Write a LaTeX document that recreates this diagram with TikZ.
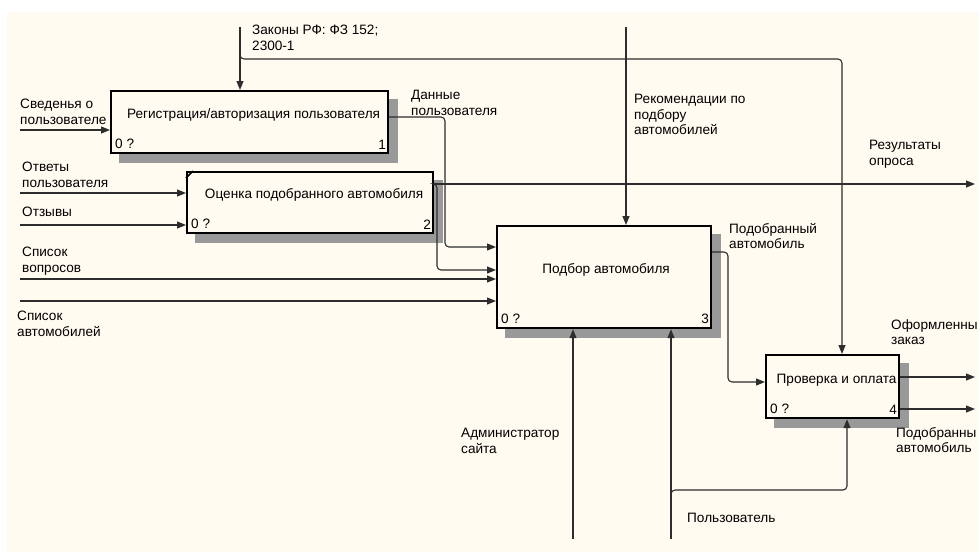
\documentclass[tikz,border=0pt]{standalone}
\usepackage{fontspec}
\setmainfont{Liberation Sans}
\usetikzlibrary{arrows.meta,backgrounds}
\definecolor{paper}{RGB}{255,251,240}
\definecolor{wirecol}{RGB}{45,45,45}

\begin{document}
\begin{tikzpicture}[
    x=1pt, y=-1pt,
    font=\fontsize{13.6}{15.5}\selectfont,
    box/.style={draw, line width=2.2pt, fill=paper, anchor=north west, inner sep=0pt},
    boxtitle/.style={inner sep=0pt},
    boxtag/.style={inner sep=0pt},
    lbl/.style={anchor=north west, align=left, inner sep=0pt},
    link/.style={-{Triangle[length=9pt,width=7pt]}, line width=1.1pt, draw=wirecol, rounded corners=4pt},
    shadowfill/.style={fill=black!40}
]
\useasboundingbox (0,0) rectangle (978,552);

% activity boxes
\node[box, minimum width=277pt, minimum height=62pt] (reg) at (110,90) {};
\node[box, minimum width=246pt, minimum height=61pt] (eval) at (186,171) {};
\node[box, minimum width=214pt, minimum height=102pt] (pick) at (496,225) {};
\node[box, minimum width=133pt, minimum height=63pt] (pay) at (765,354) {};
\draw[line width=1.5pt] ([yshift=-7pt]eval.north west) -- ([xshift=7pt]eval.north west);

\node[boxtitle] (regt) at ([shift={(4pt,7.5pt)}]reg.center) {Регистрация/авторизация пользователя};
\node[boxtitle] (evalt) at ([shift={(4pt,7.5pt)}]eval.center) {Оценка подобранного автомобиля};
\node[boxtitle] (pickt) at ([shift={(2pt,7.5pt)}]pick.center) {Подбор автомобиля};
\node[boxtitle] (payt) at ([shift={(4pt,6.5pt)}]pay.center) {Проверка и оплата};

\node[boxtag, anchor=south west] (reg0) at ([shift={(5pt,5pt)}]reg.south west) {0 ?};
\node[boxtag, anchor=south east] (reg1) at ([shift={(-3pt,5pt)}]reg.south east) {1};
\node[boxtag, anchor=south west] (eval0) at ([shift={(5pt,5pt)}]eval.south west) {0 ?};
\node[boxtag, anchor=south east] (eval1) at ([shift={(-3pt,5pt)}]eval.south east) {2};
\node[boxtag, anchor=south west] (pick0) at ([shift={(5pt,5pt)}]pick.south west) {0 ?};
\node[boxtag, anchor=south east] (pick1) at ([shift={(-3pt,5pt)}]pick.south east) {3};
\node[boxtag, anchor=south west] (pay0) at ([shift={(5pt,5pt)}]pay.south west) {0 ?};
\node[boxtag, anchor=south east] (pay1) at ([shift={(-3pt,5pt)}]pay.south east) {4};

% controls
\coordinate (lawsrc) at (240,27);
\coordinate (lawsplit) at (240,50);
\coordinate (lawturn) at (842,59);
\coordinate (recsrc) at (626,27);
\draw[link] (lawsrc) -- (lawsrc |- reg.north);
\draw[link] (lawsplit) |- (lawturn) -- (lawturn |- pay.north);
\draw[link] (recsrc) -- (recsrc |- pick.north);

% inputs
\coordinate (in1) at (20,130);
\coordinate (in2) at (20,193);
\coordinate (in3) at (20,225);
\coordinate (in4) at (20,279);
\coordinate (in5) at (20,301);
\draw[link] (in1) -- (in1 -| reg.west);
\draw[link] (in2) -- (in2 -| eval.west);
\draw[link] (in3) -- (in3 -| eval.west);
\draw[link] (in4) -- (in4 -| pick.west);
\draw[link] (in5) -- (in5 -| pick.west);

% outputs
\coordinate (d1) at (445,117);
\coordinate (d1end) at (445,247);
\draw[link] (d1 -| reg.east) -- (d1) -- (d1end) -- (d1end -| pick.west);
\coordinate (r2) at (975,184);
\coordinate (e2) at (437,270);
\draw[link] (r2 -| eval.east) -- (r2);
\draw[link] (r2 -| eval.east) -- (e2 |- r2) -- (e2) -- (e2 -| pick.west);
\coordinate (p3) at (728,252);
\coordinate (p3end) at (728,382);
\draw[link] (p3 -| pick.east) -- (p3) -- (p3end) -- (p3end -| pay.west);
\coordinate (o4a) at (975,377);
\coordinate (o4b) at (975,409);
\draw[link] (o4a -| pay.east) -- (o4a);
\draw[link] (o4b -| pay.east) -- (o4b);

% mechanisms
\coordinate (adm) at (573,539);
\coordinate (usr) at (671,539);
\coordinate (usrsplit) at (671,497);
\coordinate (usrturn) at (847,490);
\draw[link] (adm) -- (adm |- pick.south);
\draw[link] (usr) -- (usr |- pick.south);
\draw[link] (usrsplit) |- (usrturn) -- (usrturn |- pay.south);

% arrow labels
\node[lbl] (lawlbl) at (252,25) {Законы РФ: ФЗ 152;\\2300-1};
\node[lbl] (reclbl) at (634,94) {Рекомендации по\\подбору\\автомобилей};
\node[lbl] (infolbl) at (20,99) {Сведенья о\\пользователе};
\node[lbl] (datalbl) at (411,90) {Данные\\пользователя};
\node[lbl] (anslbl) at (22,162) {Ответы\\пользователя};
\node[lbl] (revlbl) at (22,207) {Отзывы};
\node[lbl] (reslbl) at (869,140) {Результаты\\опроса};
\node[lbl] (qlbl) at (22,247) {Список\\вопросов};
\node[lbl] (carslbl) at (17,311) {Список\\автомобилей};
\node[lbl] (chosenlbl) at (729,223) {Подобранный\\автомобиль};
\node[lbl] (orderlbl) at (891,319) {Оформленны\\заказ};
\node[lbl] (carlbl) at (896,427) {Подобранны\\автомобиль};
\node[lbl] (admlbl) at (461,428) {Администратор\\сайта};
\node[lbl] (usrlbl) at (687,513) {Пользователь};

\begin{scope}[on background layer]
\fill[paper] (7,12) rectangle (978,552);
\foreach \b in {reg,eval,pick,pay}
  \fill[shadowfill] ([shift={(9,9)}]\b.north west) rectangle ([shift={(9,9)}]\b.south east);
\end{scope}
\end{tikzpicture}
\end{document}
